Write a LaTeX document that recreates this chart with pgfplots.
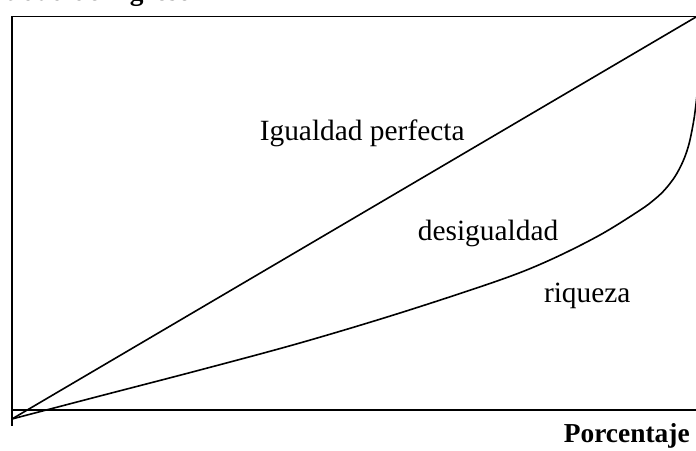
\documentclass[border=0pt]{standalone}
\usepackage{fontspec}
\setmainfont{Liberation Serif}
\usepackage{pgfplots}
\pgfplotsset{compat=1.18}

\newcommand{\lbl}{\fontsize{29.5}{34}\selectfont}
\newcommand{\lblb}{\fontsize{27.5}{32}\selectfont\bfseries}

\begin{document}
\begin{tikzpicture}[x=1bp,y=1bp]
\begin{axis}[
    at={(12bp,26bp)},
    anchor=south west,
    scale only axis,
    width=684bp,
    height=409bp,
    xmin=0, xmax=100,
    ymin=-1.5, ymax=100.25,
    hide axis,
    clip=false,
]
% marco
\addplot[black, line width=1.6bp, line cap=rect] coordinates {(100,100.1) (0,100.1) (0,-1.5)};
\addplot[black, line width=1.6bp] coordinates {(0,2.2) (100,2.2)};
% igualdad perfecta
\addplot[black, line width=1.6bp] coordinates {(0,0) (100,100)};
% curva de riqueza
\addplot[black, line width=1.6bp, smooth, tension=0.55] coordinates {
    (0,0) (12.87,5.72) (27.49,12.19) (42.11,18.91) (56.73,26.37)
    (71.35,34.58) (78.65,39.55) (85.96,45.77) (91.81,51.94)
    (94.01,54.73) (95.47,57.09) (96.93,60.32) (98.10,64.10)
    (98.98,68.43) (99.71,74.65) (100.15,80.62)
};
\node[anchor=base, font=\lbl] at (axis cs:51.2,69.4) {Igualdad perfecta};
\node[anchor=base, font=\lbl] at (axis cs:69.6,44.5) {desigualdad};
\node[anchor=base, font=\lbl] at (axis cs:84.1,28.9) {riqueza};
\node[anchor=base east, inner sep=0pt, font=\lblb] at (axis cs:99.1,-5.97) {Porcentaje};
\node[anchor=base east, inner sep=0pt, font=\lblb] at (axis cs:26.3,104.0) {Cantidad de ingreso};
\end{axis}
\pgfresetboundingbox
\path[use as bounding box] (0,0) rectangle (696bp,451bp);
\end{tikzpicture}
\end{document}
